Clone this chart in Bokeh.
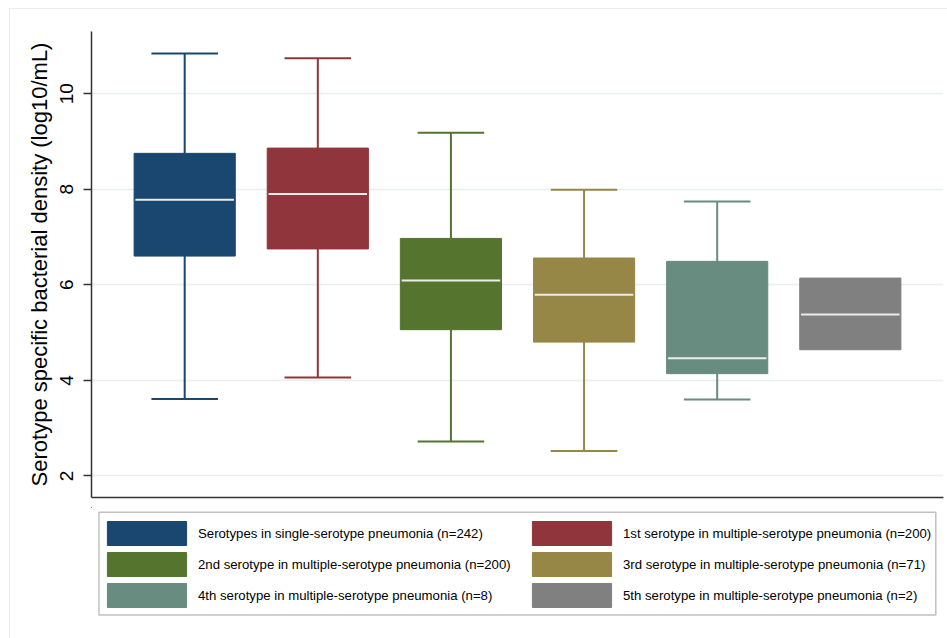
from bokeh.plotting import figure
from bokeh.layouts import column
from bokeh.models import Range1d, Legend, LegendItem, FixedTicker, ColumnDataSource, BoxAnnotation
from bokeh.embed import file_html
from bokeh.resources import INLINE

groups = [
    "Serotypes in single-serotype pneumonia (n=242)",
    "1st serotype in multiple-serotype pneumonia (n=200)",
    "2nd serotype in multiple-serotype pneumonia (n=200)",
    "3rd serotype in multiple-serotype pneumonia (n=71)",
    "4th serotype in multiple-serotype pneumonia (n=8)",
    "5th serotype in multiple-serotype pneumonia (n=2)",
]
positions = [1, 2, 3, 4, 5, 6]
upper_whisker = [10.84, 10.74, 9.18, 7.99, 7.74, None]
q3 = [8.75, 8.86, 6.97, 6.56, 6.49, 6.14]
median = [7.78, 7.90, 6.09, 5.79, 4.46, 5.38]
q1 = [6.60, 6.75, 5.06, 4.80, 4.14, 4.64]
lower_whisker = [3.61, 4.06, 2.72, 2.52, 3.60, None]
colors = ["#1a476f", "#90353b", "#55752f", "#968746", "#688c80", "#808080"]
y_ticks = [2, 4, 6, 8, 10]

FONT = "Liberation Sans"
BOX_W = 0.76
CAP_W = 0.5
AXIS_COLOR = "#333333"

p = figure(width=937, height=498, output_backend="svg", toolbar_location=None,
           x_range=Range1d(0.3, 6.7), y_range=Range1d(1.548, 11.30),
           min_border_left=81, min_border_right=4, min_border_top=22,
           min_border_bottom=10)
p.outline_line_color = None
p.background_fill_color = "white"
p.border_fill_color = "white"

p.xgrid.grid_line_color = None
p.ygrid.grid_line_color = "#e6eef0"
p.ygrid.grid_line_width = 1.5
p.yaxis.ticker = FixedTicker(ticks=y_ticks)
p.yaxis.axis_label = "Serotype specific bacterial density (log10/mL)"
p.yaxis.axis_label_text_font = FONT
p.yaxis.axis_label_text_font_style = "normal"
p.yaxis.axis_label_text_font_size = "22px"
p.yaxis.axis_label_text_color = "black"
p.yaxis.axis_label_standoff = 6
p.yaxis.major_label_text_font = FONT
p.yaxis.major_label_text_font_size = "19px"
p.yaxis.major_label_text_color = "black"
p.yaxis.major_label_orientation = "vertical"
p.yaxis.major_label_standoff = 10
p.yaxis.major_tick_out = 8
p.yaxis.major_tick_in = 0
p.yaxis.minor_tick_out = 0
p.yaxis.minor_tick_in = 0
p.yaxis.axis_line_color = AXIS_COLOR
p.yaxis.axis_line_width = 1.5
p.yaxis.major_tick_line_color = AXIS_COLOR
p.yaxis.major_tick_line_width = 1.5

p.xaxis.ticker = FixedTicker(ticks=[])
p.xaxis.major_tick_out = 0
p.xaxis.major_tick_in = 0
p.xaxis.minor_tick_out = 0
p.xaxis.minor_tick_in = 0
p.xaxis.axis_line_color = AXIS_COLOR
p.xaxis.axis_line_width = 1.5

for i in range(len(groups)):
    x = positions[i]
    c = colors[i]
    if upper_whisker[i] is not None:
        src = ColumnDataSource(dict(x=[x, x], y0=[q3[i], q1[i]], y1=[upper_whisker[i], lower_whisker[i]]))
        p.segment(x0="x", y0="y0", x1="x", y1="y1", source=src, line_color=c, line_width=2)
        caps = ColumnDataSource(dict(x0=[x - CAP_W / 2] * 2, x1=[x + CAP_W / 2] * 2,
                                     y=[upper_whisker[i], lower_whisker[i]]))
        p.segment(x0="x0", y0="y", x1="x1", y1="y", source=caps, line_color=c, line_width=2)
    p.vbar(x=[x], top=[q3[i]], bottom=[q1[i]], width=BOX_W, fill_color=c,
           line_color=c, line_width=1)
    p.segment(x0=[x - BOX_W / 2 + 0.01], x1=[x + BOX_W / 2 - 0.01], y0=[median[i]], y1=[median[i]],
              line_color="#ececec", line_width=2)

# legend panel: its frame is aligned with the plot frame; ranges are in pixels
lg = figure(width=937, height=131, output_backend="svg", toolbar_location=None,
            x_range=Range1d(0, 852), y_range=Range1d(131, 0),
            x_axis_location=None, y_axis_location=None,
            min_border_left=81, min_border_right=4, min_border_top=0, min_border_bottom=0)
lg.grid.visible = False
lg.outline_line_color = None
lg.background_fill_color = "white"
lg.border_fill_color = "white"

# legend frame box (pixel offsets from the panel's top-left)
lg.add_layout(BoxAnnotation(left=7.5, right=844.3, top=4.7, bottom=107.5,
                            fill_alpha=0, line_color=AXIS_COLOR, line_width=1.5))

items = []
for i in range(len(groups)):
    # swatch-only renderer: its bar lies outside the visible range
    r = lg.vbar(x=[-100 - positions[i]], top=[-100 - q1[i]], bottom=[-100 - q3[i]], width=0.1,
                fill_color=colors[i], line_color=colors[i])
    items.append(LegendItem(label=groups[i], renderers=[r]))

legend = Legend(items=items, orientation="horizontal", ncols=2,
                location=(6, 28),
                label_text_font=FONT, label_text_font_size="13.2px", label_text_color="black",
                glyph_width=99, glyph_height=30, label_standoff=2, label_width=323,
                spacing=1, padding=0, margin=0,
                border_line_color=None, background_fill_alpha=0)
lg.add_layout(legend, "center")

layout = column(p, lg, spacing=0, margin=(8, 0, 0, 9),
                styles={"border-left": "1px solid #ebebeb", "border-top": "1px solid #ebebeb"})

open("out.html", "w").write(file_html(layout, INLINE))
